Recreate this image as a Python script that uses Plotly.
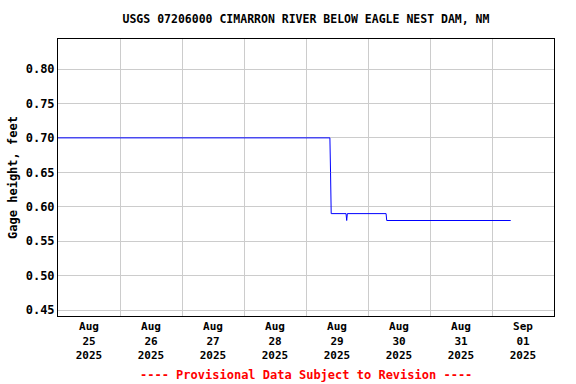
import plotly.graph_objects as go

# Data (15-minute gage height readings, simplified to change points)
times = [
    "2025-08-25 00:00", "2025-08-29 09:15", "2025-08-29 09:30", "2025-08-29 09:45",
    "2025-08-29 15:30", "2025-08-29 15:45", "2025-08-29 16:00",
    "2025-08-30 07:00", "2025-08-30 07:15", "2025-09-01 07:15",
]
gage_height = [0.70, 0.70, 0.65, 0.59, 0.59, 0.58, 0.59, 0.59, 0.58, 0.58]

tick_days = ["2025-08-25", "2025-08-26", "2025-08-27", "2025-08-28",
             "2025-08-29", "2025-08-30", "2025-08-31", "2025-09-01"]
tick_text = ["Aug<br>25<br>2025", "Aug<br>26<br>2025", "Aug<br>27<br>2025", "Aug<br>28<br>2025",
             "Aug<br>29<br>2025", "Aug<br>30<br>2025", "Aug<br>31<br>2025", "Sep<br>01<br>2025"]
grid_days = ["2025-08-26", "2025-08-27", "2025-08-28", "2025-08-29",
             "2025-08-30", "2025-08-31", "2025-09-01"]
y_ticks = [0.45, 0.50, 0.55, 0.60, 0.65, 0.70, 0.75, 0.80]

FONT = "DejaVu Sans Mono"

fig = go.Figure()
fig.add_trace(go.Scatter(x=times, y=gage_height, mode="lines",
                         line=dict(color="#0000ff", width=1), hoverinfo="skip"))

fig.update_layout(
    width=576, height=384,
    margin=dict(l=58, r=22, t=39, b=68),
    paper_bgcolor="white", plot_bgcolor="white",
    showlegend=False,
    font=dict(family=FONT, size=12, color="black", weight="bold"),
    title=dict(text="USGS 07206000 CIMARRON RIVER BELOW EAGLE NEST DAM, NM",
               x=0.5, xref="paper", y=1 - 19 / 384, yanchor="middle",
               font=dict(family=FONT, size=11.5, weight="bold")),
    xaxis=dict(
        range=["2025-08-25 00:00", "2025-09-02 00:00"],
        tickvals=[d + " 12:00" for d in tick_days], ticktext=tick_text,
        showgrid=False, ticks="", ticklen=0, automargin=False,
        tickfont=dict(family=FONT, size=11, weight="bold"),
        minor=dict(tickvals=grid_days, showgrid=True, gridcolor="#cccccc", gridwidth=1, ticks=""),
        showline=True, linecolor="black", linewidth=1, mirror=True, zeroline=False,
    ),
    yaxis=dict(
        range=[0.4413, 0.8436],
        tickvals=y_ticks, tickformat=".2f",
        showgrid=True, gridcolor="#cccccc", gridwidth=1,
        ticks="", ticklen=0, automargin=False,
        tickfont=dict(family=FONT, size=12, weight="bold"),
        title=dict(text="Gage height, feet", standoff=5,
                   font=dict(family=FONT, size=12, weight="bold")),
        showline=True, linecolor="black", linewidth=1, mirror=True, zeroline=False,
    ),
    annotations=[dict(
        text="---- Provisional Data Subject to Revision ----",
        xref="paper", yref="paper", x=0.5, y=-59 / 277, yanchor="middle",
        showarrow=False, font=dict(family=FONT, size=12, color="red", weight="bold"),
    )],
)

fig.write_html("out.html", config={"displayModeBar": False},
               post_script="document.body.style.margin='0';document.body.style.overflow='hidden';")
